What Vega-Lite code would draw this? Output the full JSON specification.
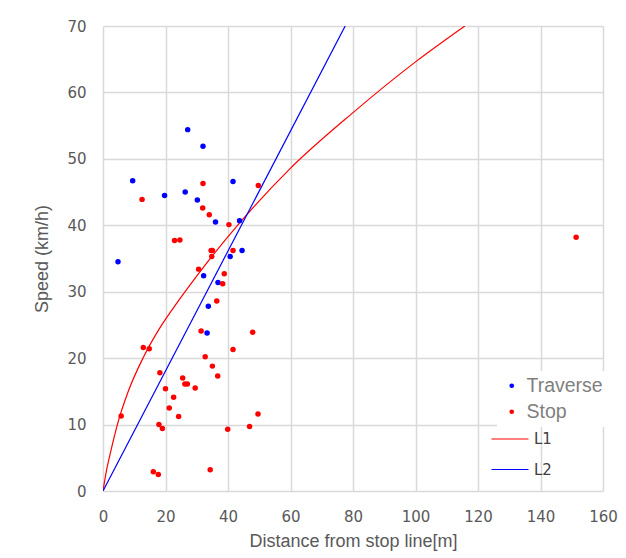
{
  "$schema": "https://vega.github.io/schema/vega-lite/v6.json",
  "width": 500,
  "height": 465,
  "autosize": {"type": "none"},
  "padding": {"left": 103, "top": 26, "right": 23, "bottom": 67},
  "background": "white",
  "config": {
    "view": {"stroke": null},
    "axis": {
      "grid": true,
      "gridColor": "#d9d9d9",
      "gridWidth": 1.5,
      "domain": false,
      "ticks": false,
      "labelFlush": false,
      "labelFont": "DejaVu Sans",
      "labelFontSize": 15,
      "labelColor": "#595959",
      "titleFont": "Liberation Sans",
      "titleFontSize": 18,
      "titleFontWeight": "normal",
      "titleColor": "#595959"
    }
  },
  "datasets": {
    "pts": [
      {"d": 27.1, "v": 54.4, "type": "Traverse"},
      {"d": 32.0, "v": 51.9, "type": "Traverse"},
      {"d": 9.5, "v": 46.7, "type": "Traverse"},
      {"d": 41.6, "v": 46.6, "type": "Traverse"},
      {"d": 19.7, "v": 44.5, "type": "Traverse"},
      {"d": 26.3, "v": 45.0, "type": "Traverse"},
      {"d": 30.2, "v": 43.8, "type": "Traverse"},
      {"d": 36.0, "v": 40.5, "type": "Traverse"},
      {"d": 43.7, "v": 40.7, "type": "Traverse"},
      {"d": 4.8, "v": 34.5, "type": "Traverse"},
      {"d": 44.5, "v": 36.2, "type": "Traverse"},
      {"d": 40.7, "v": 35.3, "type": "Traverse"},
      {"d": 32.2, "v": 32.4, "type": "Traverse"},
      {"d": 36.8, "v": 31.4, "type": "Traverse"},
      {"d": 33.7, "v": 27.8, "type": "Traverse"},
      {"d": 33.3, "v": 23.8, "type": "Traverse"},
      {"d": 32.0, "v": 46.3, "type": "Stop"},
      {"d": 12.5, "v": 43.9, "type": "Stop"},
      {"d": 31.9, "v": 42.6, "type": "Stop"},
      {"d": 34.0, "v": 41.6, "type": "Stop"},
      {"d": 49.7, "v": 46.0, "type": "Stop"},
      {"d": 40.3, "v": 40.1, "type": "Stop"},
      {"d": 22.9, "v": 37.7, "type": "Stop"},
      {"d": 24.6, "v": 37.8, "type": "Stop"},
      {"d": 34.6, "v": 36.2, "type": "Stop"},
      {"d": 35.0, "v": 36.2, "type": "Stop"},
      {"d": 41.6, "v": 36.2, "type": "Stop"},
      {"d": 34.8, "v": 35.3, "type": "Stop"},
      {"d": 30.6, "v": 33.4, "type": "Stop"},
      {"d": 38.8, "v": 32.7, "type": "Stop"},
      {"d": 38.3, "v": 31.2, "type": "Stop"},
      {"d": 36.4, "v": 28.6, "type": "Stop"},
      {"d": 31.4, "v": 24.1, "type": "Stop"},
      {"d": 47.9, "v": 23.9, "type": "Stop"},
      {"d": 12.9, "v": 21.6, "type": "Stop"},
      {"d": 14.8, "v": 21.4, "type": "Stop"},
      {"d": 41.6, "v": 21.3, "type": "Stop"},
      {"d": 32.7, "v": 20.2, "type": "Stop"},
      {"d": 35.0, "v": 18.8, "type": "Stop"},
      {"d": 18.2, "v": 17.8, "type": "Stop"},
      {"d": 25.5, "v": 17.0, "type": "Stop"},
      {"d": 36.7, "v": 17.3, "type": "Stop"},
      {"d": 26.2, "v": 16.1, "type": "Stop"},
      {"d": 27.0, "v": 16.1, "type": "Stop"},
      {"d": 20.0, "v": 15.4, "type": "Stop"},
      {"d": 29.5, "v": 15.5, "type": "Stop"},
      {"d": 22.6, "v": 14.1, "type": "Stop"},
      {"d": 21.2, "v": 12.5, "type": "Stop"},
      {"d": 24.2, "v": 11.2, "type": "Stop"},
      {"d": 5.8, "v": 11.3, "type": "Stop"},
      {"d": 49.6, "v": 11.6, "type": "Stop"},
      {"d": 17.9, "v": 10.0, "type": "Stop"},
      {"d": 19.0, "v": 9.4, "type": "Stop"},
      {"d": 39.9, "v": 9.3, "type": "Stop"},
      {"d": 46.9, "v": 9.7, "type": "Stop"},
      {"d": 16.1, "v": 2.9, "type": "Stop"},
      {"d": 17.7, "v": 2.5, "type": "Stop"},
      {"d": 34.3, "v": 3.2, "type": "Stop"},
      {"d": 151.4, "v": 38.2, "type": "Stop"}
    ],
    "lines": [
      {"d": 0, "v": 0, "line": "L1"},
      {"d": 1.2, "v": 3.3, "line": "L1"},
      {"d": 2.2, "v": 5.4, "line": "L1"},
      {"d": 4.6, "v": 10.0, "line": "L1"},
      {"d": 8, "v": 14.9, "line": "L1"},
      {"d": 12.9, "v": 20.1, "line": "L1"},
      {"d": 18, "v": 24.4, "line": "L1"},
      {"d": 24.4, "v": 28.8, "line": "L1"},
      {"d": 32, "v": 33.6, "line": "L1"},
      {"d": 43.8, "v": 40.4, "line": "L1"},
      {"d": 59.8, "v": 48.5, "line": "L1"},
      {"d": 80.1, "v": 57.0, "line": "L1"},
      {"d": 100, "v": 64.6, "line": "L1"},
      {"d": 115.8, "v": 70, "line": "L1"},
      {"d": 0, "v": 0, "line": "L2"},
      {"d": 77.5, "v": 70, "line": "L2"}
    ]
  },
  "encoding": {
    "x": {
      "field": "d", "type": "quantitative",
      "scale": {"domain": [0, 160], "nice": false, "zero": true},
      "axis": {"values": [0, 20, 40, 60, 80, 100, 120, 140, 160], "labelPadding": 18, "title": "Distance from stop line[m]", "titlePadding": 8}
    },
    "y": {
      "field": "v", "type": "quantitative",
      "scale": {"domain": [0, 70], "nice": false},
      "axis": {"values": [0, 10, 20, 30, 40, 50, 60, 70], "labelPadding": 17, "title": "Speed (km/h)", "titlePadding": 15}
    }
  },
  "layer": [
    {
      "data": {"name": "lines"},
      "mark": {"type": "line", "strokeWidth": 1.2, "interpolate": "monotone", "clip": true},
      "encoding": {
        "color": {
          "field": "line", "type": "nominal",
          "scale": {"domain": ["L1", "L2"], "range": ["#ff0000", "#0000ff"]},
          "legend": {
            "title": null, "orient": "none", "legendX": 397, "legendY": 403,
            "symbolType": "M-2,0H2", "symbolSize": 342, "symbolStrokeWidth": 1.2,
            "labelFont": "DejaVu Sans", "labelFontSize": 15, "labelColor": "#404040",
            "labelOffset": 14, "rowPadding": 12.5, "padding": 0
          }
        }
      }
    },
    {
      "data": {"name": "pts"},
      "mark": {"type": "point", "filled": true, "opacity": 1, "size": 30},
      "encoding": {
        "fill": {
          "field": "type", "type": "nominal",
          "scale": {"domain": ["Traverse", "Stop"], "range": ["#0000ff", "#ff0000"]},
          "legend": {
            "title": null, "orient": "none", "legendX": 394, "legendY": 345,
            "symbolType": "circle", "symbolSize": 22, "symbolStrokeWidth": 0,
            "labelFont": "Liberation Sans", "labelFontSize": 19.5, "labelColor": "#7f7f7f",
            "labelOffset": 5, "rowPadding": 5, "padding": 5, "fillColor": "white"
          }
        }
      }
    }
  ]
}
